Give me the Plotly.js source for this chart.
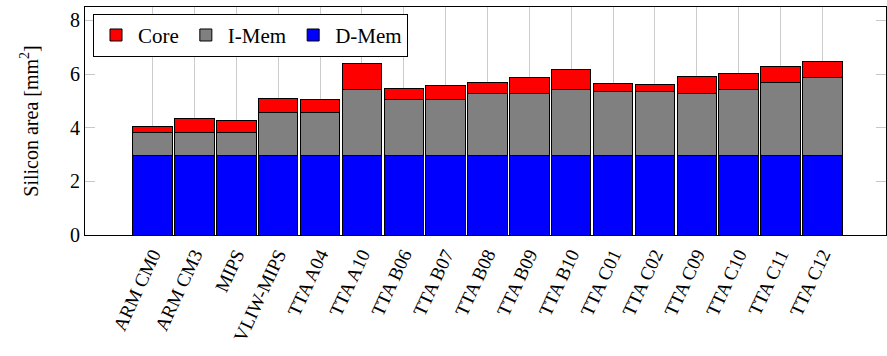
<!DOCTYPE html>
<html>
<head>
<meta charset="utf-8">
<script src="https://cdn.plot.ly/plotly-3.0.1.min.js"></script>
<style>html,body{margin:0;padding:0;background:#fff;}#chart{width:887px;height:356px;}</style>
</head>
<body>
<div id="chart"></div>
<script>
const categories = ["ARM CM0","ARM CM3","MIPS","VLIW-MIPS","TTA A04","TTA A10","TTA B06","TTA B07","TTA B08","TTA B09","TTA B10","TTA C01","TTA C02","TTA C09","TTA C10","TTA C11","TTA C12"];
const dMem = [2.97,2.97,2.97,2.97,2.97,2.97,2.97,2.97,2.97,2.97,2.97,2.97,2.97,2.97,2.97,2.97,2.97];
const iMem = [0.86,0.84,0.84,1.61,1.61,2.47,2.07,2.07,2.30,2.30,2.47,2.37,2.37,2.30,2.47,2.71,2.90];
const core = [0.21,0.54,0.47,0.52,0.49,0.97,0.41,0.52,0.41,0.59,0.73,0.29,0.28,0.65,0.58,0.59,0.60];
const yTicks = [0,2,4,6,8];

const FONT = "Liberation Serif, DejaVu Serif, serif";
const line = {color:"#000", width:1};
const traces = [
  {type:"bar", name:"D-Mem", x:categories, y:dMem, marker:{color:"#0000ff", line:line}},
  {type:"bar", name:"I-Mem", x:categories, y:iMem, marker:{color:"#808080", line:line}},
  {type:"bar", name:"Core", x:categories, y:core, marker:{color:"#ff0000", line:line}}
];
const layout = {
  width:887, height:356,
  margin:{l:85, r:1, t:7, b:121},
  barmode:"stack",
  bargap:0.06,
  paper_bgcolor:"#fff", plot_bgcolor:"#fff",
  font:{family:FONT, size:19, color:"#000"},
  showlegend:true,
  legend:{orientation:"h", traceorder:"reversed", x:0.01, y:0.97, xanchor:"left", yanchor:"top",
          bgcolor:"#fff", bordercolor:"#000", borderwidth:1, itemwidth:34, font:{family:FONT, size:21}},
  xaxis:{type:"category", range:[-1.615,17.52], showgrid:true, gridcolor:"#cccccc", gridwidth:1,
         showline:true, linecolor:"#000", linewidth:1, mirror:true, ticks:"", tickangle:-65,
         tickfont:{family:FONT, size:19}, zeroline:false},
  yaxis:{range:[0,8.5], tickvals:yTicks, showgrid:false, zeroline:false, showline:true, linecolor:"#000",
         linewidth:1, mirror:"ticks", ticks:"inside", ticklen:10, tickcolor:"#c8c8c8",
         tickfont:{family:FONT, size:20},
         title:{text:"Silicon area [mm<sup>2</sup>]", font:{family:FONT, size:20}, standoff:26}}
};
Plotly.newPlot("chart", traces, layout, {displayModeBar:false, staticPlot:true});
</script>
</body>
</html>
